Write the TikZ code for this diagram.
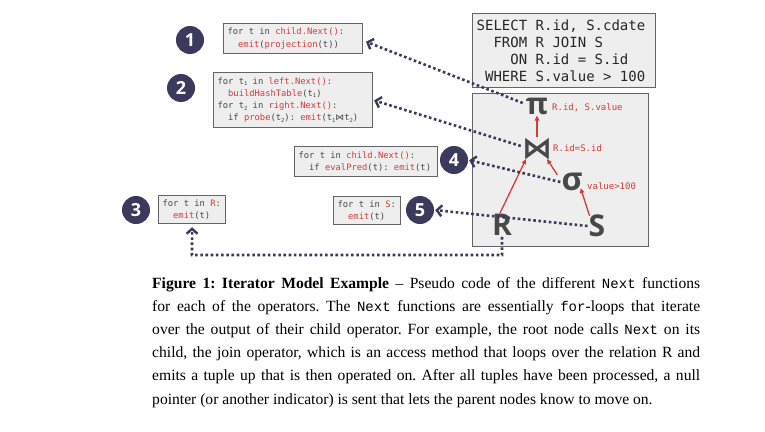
\documentclass[tikz,border=0pt]{standalone}
\usepackage{fontspec}
\setmainfont{Liberation Serif}
\setmonofont[Scale=0.9]{Liberation Mono}
\newfontfamily\codefont{DejaVu Sans Mono}
\newfontfamily\symfont{DejaVu Sans}
\newfontfamily\numfont{Open Sans}
\newfontfamily\relfont{Open Sans}
\usetikzlibrary{arrows.meta}
\definecolor{navy}{RGB}{60,58,92}
\definecolor{codered}{RGB}{214,58,58}
\definecolor{codegray}{RGB}{70,70,70}
\definecolor{boxfill}{RGB}{238,238,238}
\definecolor{boxline}{RGB}{100,100,100}
\definecolor{opgray}{RGB}{72,72,72}
\newcommand\rd[1]{\textcolor{codered}{#1}}
\newcommand\ws{\phantom{0}}
\newcommand\ind{\phantom{00}}
\newcommand\sbn[1]{\raisebox{-0.3ex}{\fontsize{5.5}{6}\selectfont #1}}
\tikzset{
  numcirc/.style={circle, fill=navy, minimum size=28pt, inner sep=0pt, text=white,
    font=\numfont\bfseries\fontsize{18}{18}\selectfont},
  codebox/.style={draw=boxline, line width=1.2pt, fill=boxfill, anchor=north west,
    inner xsep=4pt, inner ysep=0pt, align=left, text=codegray,
    font=\codefont\fontsize{8.8}{12.2}\selectfont},
  dotarrow/.style={navy, line width=2.6pt, dash pattern=on 2.6pt off 2.6pt,
    -{Straight Barb[length=5pt,width=11pt,line width=2.4pt]}},
  redarrow/.style={codered, line width=1.3pt, -{Triangle[length=5pt,width=4.5pt]}},
  oplabel/.style={anchor=west, text=codered, inner sep=0pt, font=\codefont\fontsize{9}{10}\selectfont},
  opsym/.style={text=opgray, inner sep=1pt},
}
\begin{document}
\begin{tikzpicture}[x=1pt,y=-1pt]
\useasboundingbox (0,0) rectangle (765,431);
% SQL box
\node[draw=boxline, line width=1.4pt, fill=boxfill, anchor=north west, minimum width=183pt,
  minimum height=74pt, inner xsep=4pt, inner ysep=0pt, align=left, text width=175pt,
  font=\codefont\fontsize{14}{17}\selectfont, text=black!85] (sql) at (472,13)
  {SELECT\ws R.id,\ws S.cdate\\\ind FROM\ws R\ws JOIN\ws S\\\ind\ind ON\ws R.id\ws =\ws S.id\\\ws WHERE\ws S.value\ws >\ws 100};
% operator box
\node[draw=boxline, line width=1.4pt, fill=boxfill, anchor=north west, minimum width=176pt,
  minimum height=153pt, inner sep=0pt] (opbox) at (472,93) {};
% operators
\node[opsym, font=\relfont\bfseries\fontsize{30}{30}\selectfont] (pi) at (537,106) {π};
\node[opsym, font=\symfont\bfseries\fontsize{30}{30}\selectfont] (join) at (537,149) {⋈};
\node[opsym, font=\relfont\bfseries\fontsize{32}{32}\selectfont] (sigma) at (572,182) {σ};
\node[opsym, font=\relfont\bfseries\fontsize{30}{30}\selectfont] (R) at (502,225) {R};
\node[opsym, font=\relfont\bfseries\fontsize{30}{30}\selectfont] (S) at (597,226) {S};
\node[oplabel] (pil) at (552,108) {R.id,\ws S.value};
\node[oplabel] (joinl) at (553,148) {R.id=S.id};
\node[oplabel] (sigl) at (587,186) {value>100};
% red arrows
\draw[redarrow] (join.north) -- (pi.south);
\draw[redarrow] ([xshift=-2pt]R.north) -- ([xshift=-11pt,yshift=2pt]join.south);
\draw[redarrow] ([xshift=-3pt,yshift=-3pt]sigma.north west) -- ([xshift=10pt,yshift=2pt]join.south);
\draw[redarrow] ([xshift=2pt,yshift=-2pt]S.north west) -- ([xshift=-3pt,yshift=4pt]sigma.south east);
% code boxes
\node[codebox, text width=131pt, minimum height=30pt] (b1) at (223,23)
  {for\ws t\ws in\ws \rd{child.Next()}:\\\ind\rd{emit}(\rd{projection}(t))};
\node[codebox, text width=151pt, minimum height=55pt] (b2) at (213,72)
  {for\ws t\sbn{1}\ws in\ws \rd{left.Next()}:\\\ind\rd{buildHashTable}(t\sbn{1})\\for\ws t\sbn{2}\ws in\ws \rd{right.Next()}:\\\ind if\ws \rd{probe}(t\sbn{2}):\ws \rd{emit}(t\sbn{1}{\symfont ⋈}t\sbn{2})};
\node[codebox, text width=135pt, minimum height=30pt] (b4) at (294,146)
  {for\ws t\ws in\ws \rd{child.Next()}:\\\ind if\ws \rd{evalPred}(t):\ws \rd{emit}(t)};
\node[codebox, text width=59pt, minimum height=28pt] (b3) at (158,195)
  {for\ws t\ws in\ws \rd{R}:\\\ind\rd{emit}(t)};
\node[codebox, text width=59pt, minimum height=28pt] (b5) at (333,196)
  {for\ws t\ws in\ws \rd{S}:\\\ind\rd{emit}(t)};
% number circles
\node[numcirc] (c1) at (190,40) {1};
\node[numcirc] (c2) at (181,88) {2};
\node[numcirc] (c3) at (136,210) {3};
\node[numcirc] (c4) at (454,160) {4};
\node[numcirc] (c5) at (420,210) {5};
% dotted arrows
\coordinate (bend) at (192,255);
\draw[dotarrow, shorten >=3pt] ([xshift=-2pt,yshift=3pt]pi.west) -- ([yshift=-2pt]b1.east);
\draw[dotarrow, shorten >=1pt] ([yshift=3pt]join.west) -- (b2.east);
\draw[dotarrow, shorten >=1pt] (sigma.west) -- (c4.east);
\draw[dotarrow, shorten >=1pt] (S.west) -- (c5.east);
\draw[dotarrow, shorten >=3pt] (R.south) |- (bend) -- (b3.south);
% caption
\node[anchor=north west, inner sep=0pt, text width=548pt, align=justify,
  font=\frenchspacing\fontsize{15.6}{23.2}\selectfont] (cap) at (152,277)
  {\textbf{Figure 1: Iterator Model Example} -- Pseudo code of the different \texttt{Next} functions\linebreak
  for each of the operators. The \texttt{Next} functions are essentially \texttt{for}-loops that iterate\linebreak
  over the output of their child operator. For example, the root node calls \texttt{Next} on its\linebreak
  child, the join operator, which is an access method that loops over the relation R and\linebreak
  emits a tuple up that is then operated on. After all tuples have been processed, a null\linebreak
  pointer (or another indicator) is sent that lets the parent nodes know to move on.};
\end{tikzpicture}
\end{document}
